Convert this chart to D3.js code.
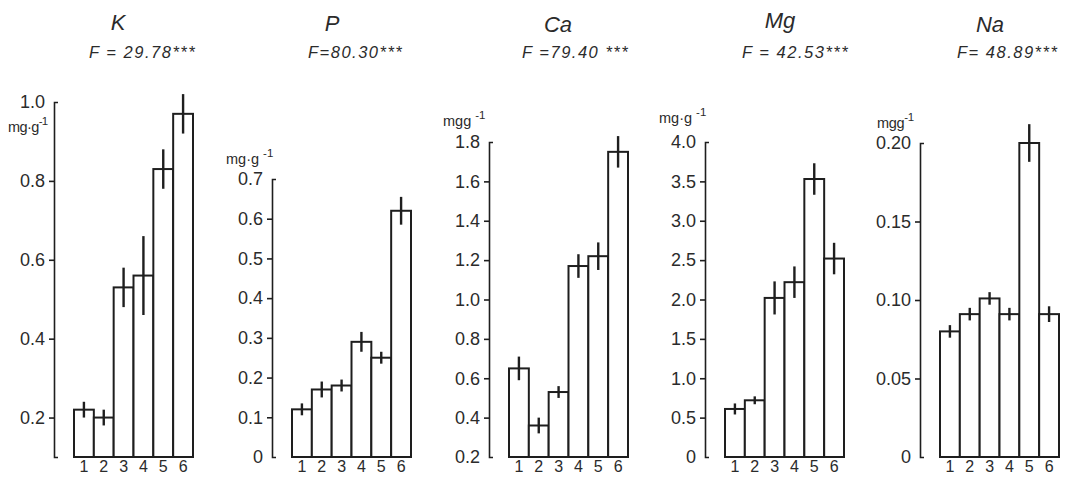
<!DOCTYPE html>
<html><head><meta charset="utf-8">
<script src="https://cdn.jsdelivr.net/npm/d3@7"></script>
<style>body{margin:0;background:#fff} svg{display:block}</style>
</head><body>
<svg id="chart" width="1065" height="477"></svg>
<script>
// ---- data ----
const categories = ["1","2","3","4","5","6"];
const elements = ["K","P","Ca","Mg","Na"];
const fLabels = ["F = 29.78***","F=80.30***","F =79.40 ***","F = 42.53***","F= 48.89***"];
const unitBase = ["mg·g","mg·g ","mgg ","mg·g ","mgg"];
const unitSup = "-1";

const kValues  = [0.22, 0.20, 0.53, 0.56, 0.83, 0.97];
const kErrors  = [0.02, 0.02, 0.05, 0.10, 0.05, 0.05];
const pValues  = [0.12, 0.17, 0.18, 0.29, 0.25, 0.62];
const pErrors  = [0.015, 0.02, 0.015, 0.025, 0.015, 0.035];
const caValues = [0.65, 0.36, 0.53, 1.17, 1.22, 1.75];
const caErrors = [0.06, 0.04, 0.03, 0.06, 0.07, 0.08];
const mgValues = [0.61, 0.72, 2.02, 2.22, 3.53, 2.52];
const mgErrors = [0.07, 0.05, 0.21, 0.20, 0.20, 0.20];
const naValues = [0.080, 0.091, 0.101, 0.091, 0.200, 0.091];
const naErrors = [0.004, 0.004, 0.004, 0.004, 0.012, 0.005];

const kTicks  = [0.2, 0.4, 0.6, 0.8, 1.0];
const pTicks  = [0, 0.1, 0.2, 0.3, 0.4, 0.5, 0.6, 0.7];
const caTicks = [0.2, 0.4, 0.6, 0.8, 1.0, 1.2, 1.4, 1.6, 1.8];
const mgTicks = [0, 0.5, 1.0, 1.5, 2.0, 2.5, 3.0, 3.5, 4.0];
const naTicks = [0, 0.05, 0.10, 0.15, 0.20];

const yDomains = [[0.1, 1.0], [0, 0.7], [0.2, 1.8], [0, 4.0], [0, 0.20]];
const tickFormats = [".1f", ".1f", ".1f", ".1f", ".2f"];

const seriesValues = [kValues, pValues, caValues, mgValues, naValues];
const seriesErrors = [kErrors, pErrors, caErrors, mgErrors, naErrors];
const seriesTicks  = [kTicks, pTicks, caTicks, mgTicks, naTicks];

// ---- layout (positions/styles) ----
const layout = {
  axisX:  [54, 272, 489, 705, 920],
  yTop:   [102, 179, 142, 142, 143],
  yBottom: 457,
  barGap: 20, groupWidth: 119,
  titleX: [118, 332, 558, 780, 990],
  titleY: [30, 31, 32, 28, 32],
  fX:     [89, 308, 522, 742, 957],
  fY:     58,
  unitX:  [8, 226, 443, 659, 877],
  unitY:  [132, 164, 126, 123, 128],
  unitSpacing: [-0.6, 0, 0, 0, -0.3]
};
const ink = "#1e1e1e", textInk = "#2b2b2b";
const font = "'Liberation Sans Narrow', 'Liberation Sans', Arial, sans-serif";
const fontW = "'Liberation Sans', Arial, sans-serif";

const svg = d3.select("#chart");

elements.forEach((el, i) => {
  const ax = layout.axisX[i];
  const y = d3.scaleLinear().domain(yDomains[i]).range([layout.yBottom, layout.yTop[i]]);
  const x = d3.scaleBand().domain(categories)
      .range([ax + layout.barGap, ax + layout.barGap + layout.groupWidth]).padding(0);
  const g = svg.append("g");

  // title & F statistic
  g.append("text").attr("x", layout.titleX[i]).attr("y", layout.titleY[i])
    .attr("text-anchor", "middle").attr("font-family", fontW).attr("font-style", "italic")
    .attr("font-size", 22).attr("fill", textInk).text(el);
  g.append("text").attr("x", layout.fX[i]).attr("y", layout.fY)
    .attr("font-family", fontW).attr("font-style", "italic").attr("letter-spacing", 1.5)
    .attr("font-size", 16.5).attr("fill", textInk).text(fLabels[i]);

  // unit label
  const u = g.append("text").attr("x", layout.unitX[i]).attr("y", layout.unitY[i])
    .attr("font-family", font).attr("font-size", 14.5).attr("fill", textInk)
    .attr("letter-spacing", layout.unitSpacing[i]);
  u.append("tspan").text(unitBase[i]);
  u.append("tspan").attr("dy", -7).attr("font-size", 11.5).text(unitSup);

  // y axis
  const dom = yDomains[i];
  const fmt = d3.format(tickFormats[i]);
  const axis = d3.axisLeft(y).tickValues(seriesTicks[i]).tickSize(5).tickSizeOuter(-4)
      .tickPadding(4).tickFormat(v => v === 0 ? "0" : fmt(v));
  const ag = g.append("g").attr("transform", `translate(${ax},0)`).call(axis);
  ag.select(".domain").attr("stroke", ink).attr("stroke-width", 1.6).attr("fill", "none");
  ag.selectAll(".tick line").attr("stroke", ink).attr("stroke-width", 1.6)
    .filter(v => v === dom[0] || v === dom[1]).attr("x2", 0);
  ag.selectAll(".tick text").attr("font-family", font).attr("font-size", 18).attr("fill", textInk);

  // bars
  const vals = seriesValues[i], errs = seriesErrors[i];
  g.selectAll("rect.bar").data(vals).enter().append("rect").attr("class", "bar")
    .attr("x", (d, j) => x(categories[j]))
    .attr("y", d => y(d))
    .attr("width", x.bandwidth())
    .attr("height", d => y(dom[0]) - y(d))
    .attr("fill", "#fff").attr("stroke", ink).attr("stroke-width", 2);

  // error bars
  g.selectAll("line.err").data(vals).enter().append("line").attr("class", "err")
    .attr("x1", (d, j) => x(categories[j]) + x.bandwidth() / 2)
    .attr("x2", (d, j) => x(categories[j]) + x.bandwidth() / 2)
    .attr("y1", (d, j) => y(d + errs[j]))
    .attr("y2", (d, j) => y(d - errs[j]))
    .attr("stroke", ink).attr("stroke-width", 2.4);

  // category labels
  g.selectAll("text.cat").data(categories).enter().append("text").attr("class", "cat")
    .attr("x", c => x(c) + x.bandwidth() / 2).attr("y", 472)
    .attr("text-anchor", "middle").attr("font-family", font).attr("font-size", 16)
    .attr("fill", textInk).text(c => c);
});
</script>
</body></html>
